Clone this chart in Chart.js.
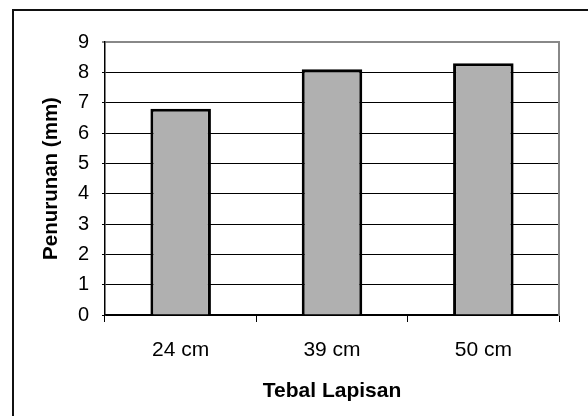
<!DOCTYPE html>
<html>
<head>
<meta charset="utf-8">
<script src="https://cdn.jsdelivr.net/npm/chart.js@4"></script>
<style>
  html, body { margin:0; padding:0; background:#fff; overflow:hidden; }
  #wrap { position:relative; width:588px; height:416px; }
  #frame { position:absolute; left:12px; top:9px; width:620px; height:460px;
           border:2px solid #111; pointer-events:none; }
</style>
</head>
<body>
<div id="wrap">
  <canvas id="chart" width="588" height="416"></canvas>
  <div id="frame"></div>
</div>
<script>
const categories = ['24 cm', '39 cm', '50 cm'];
const settlement = [6.8, 8.1, 8.3];
const yMin = 0, yMax = 9, yStep = 1;

const FONT = "'Liberation Sans', Arial, sans-serif";
Chart.defaults.color = '#000';
Chart.defaults.font.family = FONT;

new Chart(document.getElementById('chart'), {
  type:'bar',
  data:{
    labels:categories,
    datasets:[{
      label:'Penurunan',
      data:settlement,
      backgroundColor:'#b0b0b0',
      borderColor:'#000',
      borderWidth:3,
      categoryPercentage:1,
      barPercentage:0.4
    }]
  },
  options:{
    responsive:false,
    animation:false,
    layout:{ padding:{ top:42, right:29, left:0, bottom:0 } },
    plugins:{ legend:{display:false}, tooltip:{enabled:false} },
    scales:{
      x:{
        afterFit:(s) => { s.height = 101; },
        grid:{ drawOnChartArea:false, tickLength:7, color:'#000', lineWidth:1 },
        border:{ color:'#000', width:1.5 },
        ticks:{ font:{ size:21 }, padding:16 },
        title:{ display:true, text:'Tebal Lapisan', font:{ size:21, weight:'bold' }, padding:{ top:0, bottom:12 } }
      },
      y:{
        min:yMin, max:yMax,
        afterFit:(s) => { s.width = 105; },
        grid:{
          color:(ctx) => ctx.tick && ctx.tick.value === yMax ? '#888' : '#000',
          lineWidth:(ctx) => ctx.tick && ctx.tick.value === yMax ? 2 : 1,
          tickLength:3
        },
        border:{ color:'#000', width:1.5 },
        ticks:{ stepSize:yStep, font:{ size:20 }, padding:13 },
        title:{ display:true, text:'Penurunan (mm)', font:{ size:20.5, weight:'bold' }, padding:{ top:39, bottom:0 } }
      },
      y2:{
        position:'right',
        min:yMin, max:yMax,
        afterFit:(s) => { s.width = 0; },
        grid:{ drawOnChartArea:false, drawTicks:false },
        border:{ color:'#888', width:2 },
        ticks:{ display:false }
      }
    }
  }
});
</script>
</body>
</html>
